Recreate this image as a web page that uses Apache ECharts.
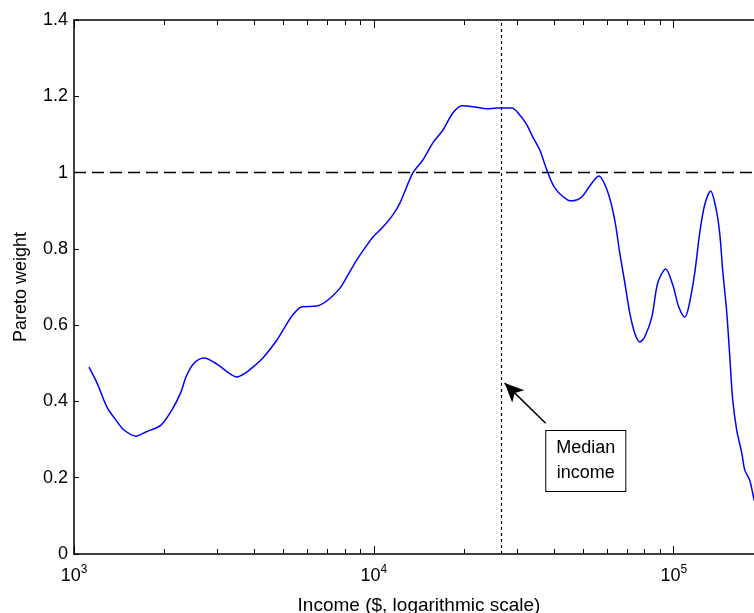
<!DOCTYPE html>
<html>
<head>
<meta charset="utf-8">
<script src="https://cdn.jsdelivr.net/npm/echarts@6/dist/echarts.min.js"></script>
<style>
  html, body { margin: 0; padding: 0; background: #fff; }
  #chart { width: 754px; height: 613px; }
</style>
</head>
<body>
<div id="chart"></div>
<script>
// income ($) and Pareto weight
const income = [
  1122, 1194, 1288, 1380, 1468, 1610, 1738, 1950, 2122, 2275, 2362, 2512,
  2712, 2998, 3288, 3493, 3687, 3950, 4266, 4752, 5048, 5370, 5754, 6457,
  7030, 7708, 8190, 8770, 9333, 9931, 10715, 11570, 12210, 13490, 14560,
  15730, 16980, 18340, 19650, 21710, 23820, 25700, 28840, 30670, 32370,
  33900, 35750, 37740, 40120, 44340, 46030, 49320, 52480, 56230, 60260,
  63560, 66070, 68700, 71340, 74130, 77090, 80000, 84510, 88470, 94000,
  99300, 103900, 108800, 112200, 117500, 122100, 126800, 132800, 138000,
  142300, 145600, 150300, 153800, 157300, 162200, 168600, 172600, 179100,
  183300, 185500
]
const weight = [
  0.49, 0.448, 0.385, 0.351, 0.325, 0.309, 0.32, 0.338, 0.378, 0.425, 0.464, 0.5,
  0.514, 0.498, 0.474, 0.464, 0.472, 0.49, 0.514, 0.561, 0.595, 0.627, 0.648, 0.65,
  0.666, 0.697, 0.731, 0.771, 0.802, 0.831, 0.857, 0.889, 0.92, 0.999, 1.033,
  1.078, 1.111, 1.156, 1.175, 1.172, 1.167, 1.169, 1.169, 1.151, 1.125,
  1.093, 1.059, 1.007, 0.96, 0.928, 0.926, 0.936, 0.965, 0.991, 0.949,
  0.876, 0.789, 0.711, 0.632, 0.579, 0.556, 0.569, 0.621, 0.711, 0.747,
  0.705, 0.648, 0.621, 0.648, 0.737, 0.842, 0.915, 0.952, 0.91,
  0.842, 0.745, 0.632, 0.517, 0.404, 0.325, 0.265, 0.22, 0.194,
  0.16, 0.14
]

const medianIncome = 26500
const paretoLine = 1
const xMin = 1000
const xMax = 200000

// minor tick positions (2..9 per decade), in log10 units for overlay axes
const minorTicks = []
for (let d = 3; d <= 5; d++) {
  for (let k = 2; k <= 9; k++) minorTicks.push(d + Math.log10(k))
}

const font = 'Liberation Sans, Arial, sans-serif'

function minorAxis(pos) {
  return {
    type: 'value',
    position: pos,
    min: Math.log10(xMin),
    max: Math.log10(xMax),
    axisLine: { show: false },
    axisLabel: { show: false },
    splitLine: { show: false },
    axisTick: {
      show: true,
      inside: true,
      length: 5,
      customValues: minorTicks,
      lineStyle: { color: '#000', width: 1 }
    }
  }
}

function majorAxis(pos, labels) {
  return {
    type: 'log',
    logBase: 10,
    position: pos,
    min: xMin,
    max: xMax,
    name: labels ? 'Income ($, logarithmic scale)' : '',
    nameLocation: 'middle',
    nameGap: 42,
    nameTextStyle: { fontFamily: font, fontSize: 19, color: '#000' },
    axisLine: { show: true, onZero: false, lineStyle: { color: '#000', width: 1.5 } },
    axisTick: { show: true, inside: true, length: 8, lineStyle: { color: '#000', width: 1 } },
    splitLine: { show: false },
    minorTick: { show: false },
    axisLabel: {
      show: labels,
      margin: 10,
      showMaxLabel: false,
      formatter: function (v) {
        return '{b|10}{e|' + Math.round(Math.log10(v)) + '}'
      },
      rich: {
        b: { fontFamily: font, fontSize: 18, color: '#000' },
        e: { fontFamily: font, fontSize: 12, color: '#000', verticalAlign: 'bottom', padding: [0, 0, 12, 0] }
      }
    }
  }
}

const option = {
  animation: false,
  backgroundColor: '#fff',
  grid: {
    left: 74,
    top: 20,
    bottom: 59,
    right: -10,
    containLabel: false,
    outerBoundsMode: 'none'
  },
  xAxis: [
    majorAxis('bottom', true),
    majorAxis('top', false),
    minorAxis('bottom'),
    minorAxis('top')
  ],
  yAxis: {
    type: 'value',
    min: 0,
    max: 1.4,
    interval: 0.2,
    name: 'Pareto weight',
    nameLocation: 'middle',
    nameGap: 44,
    nameTextStyle: { fontFamily: font, fontSize: 18, color: '#000' },
    axisLine: { show: true, lineStyle: { color: '#000', width: 1.5 } },
    axisTick: { show: true, inside: true, length: 5, lineStyle: { color: '#000', width: 1 } },
    splitLine: { show: false },
    axisLabel: { margin: 6, fontFamily: font, fontSize: 18, color: '#000' }
  },
  series: [
    {
      type: 'line',
      xAxisIndex: 0,
      data: income.map((x, i) => [x, weight[i]]),
      showSymbol: false,
      smooth: 0.3,
      lineStyle: { color: '#0000ff', width: 1.5 },
      markLine: {
        silent: true,
        symbol: 'none',
        label: { show: false },
        data: [
          { yAxis: paretoLine, lineStyle: { color: '#000', type: [12, 6], width: 1.3 } },
          { xAxis: medianIncome, lineStyle: { color: '#000', type: [3, 3], width: 1.2 } },
          [
            { coord: [37400, 0.343], symbol: 'none' },
            { coord: [27300, 0.448], symbol: 'arrow', symbolSize: [13, 19] }
          ]
        ],
        lineStyle: { color: '#000', type: 'solid', width: 1.5 }
      },
      markPoint: {
        silent: true,
        symbol: 'rect',
        symbolSize: 0,
        data: [
          {
            coord: [50900, 0.244],
            label: {
              show: true,
              position: 'inside',
              formatter: 'Median\nincome',
              fontFamily: font,
              fontSize: 18,
              lineHeight: 25,
              color: '#000',
              backgroundColor: '#fff',
              borderColor: '#000',
              borderWidth: 1,
              padding: [6, 10, 4, 10],
              align: 'center'
            }
          }
        ]
      }
    }
  ]
}

const chart = echarts.init(document.getElementById('chart'))
chart.setOption(option)
</script>
</body>
</html>
